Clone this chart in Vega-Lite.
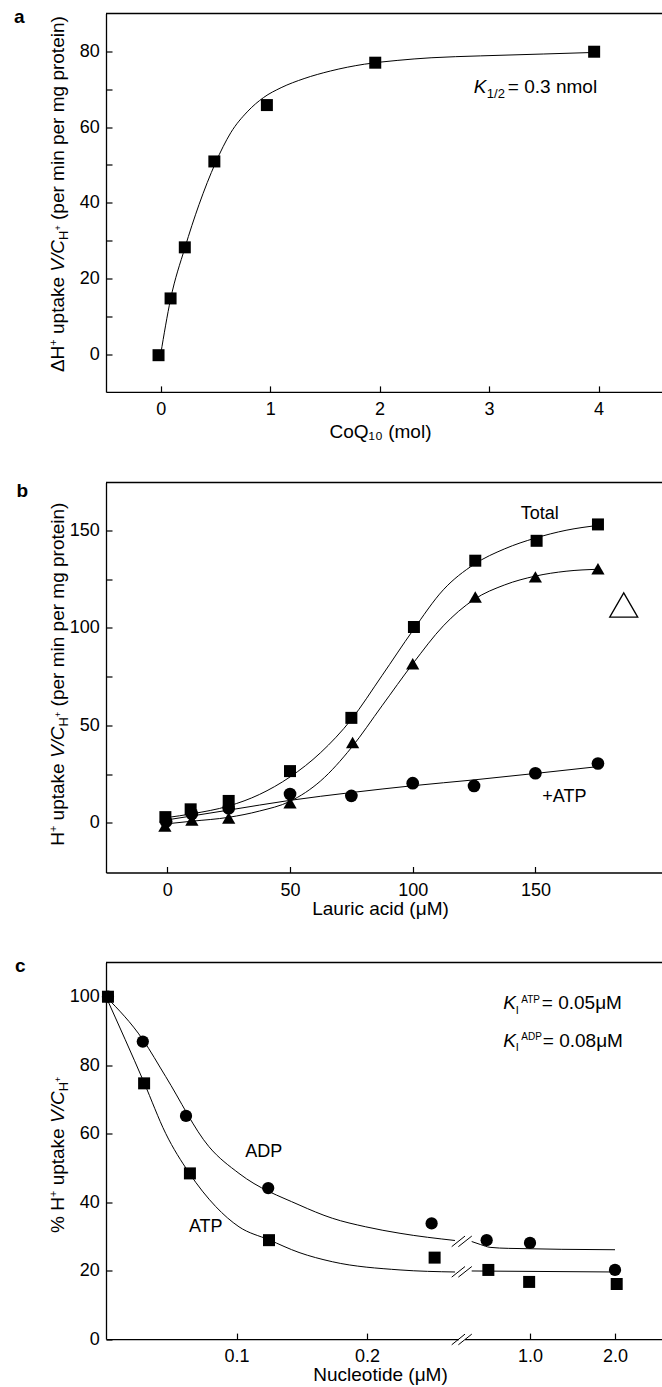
{
  "$schema": "https://vega.github.io/schema/vega-lite/v6.json",
  "background": "white",
  "padding": {"left": 14, "top": 7.5, "right": 0, "bottom": 0},
  "spacing": 90,
  "bounds": "flush",
  "config": {
    "view": {"stroke": null},
    "font": "Liberation Sans",
    "axis": {
      "grid": false, "domainColor": "black", "domainWidth": 1.3, "tickColor": "black", "tickWidth": 1.2, "tickSize": -6,
      "labelFont": "Liberation Sans", "labelFontSize": 18, "labelColor": "black", "labelPadding": 14.7,
      "labelFlush": false, "labelOverlap": false,
      "titleFont": "Liberation Sans", "titleFontSize": 19, "titleFontWeight": "normal", "titleColor": "black"
    },
    "axisY": {"labelPadding": 12.7},
    "text": {"font": "Liberation Sans", "color": "black", "fontSize": 19}
  },
  "datasets": {
    "a_pts": [
      {"CoQ10": -0.02, "uptake": -0.3}, {"CoQ10": 0.09, "uptake": 14.7}, {"CoQ10": 0.22, "uptake": 28.2},
      {"CoQ10": 0.49, "uptake": 50.9}, {"CoQ10": 0.97, "uptake": 65.8}, {"CoQ10": 1.96, "uptake": 77.0},
      {"CoQ10": 3.96, "uptake": 79.9}
    ],
    "a_curve": [
      {"CoQ10": 0, "uptake": 0}, {"CoQ10": 0.09, "uptake": 14.5}, {"CoQ10": 0.22, "uptake": 28}, {"CoQ10": 0.35, "uptake": 39.5},
      {"CoQ10": 0.5, "uptake": 50.5}, {"CoQ10": 0.64, "uptake": 58.5}, {"CoQ10": 0.79, "uptake": 64}, {"CoQ10": 0.94, "uptake": 67.8},
      {"CoQ10": 1.1, "uptake": 70.4}, {"CoQ10": 1.31, "uptake": 72.8}, {"CoQ10": 1.55, "uptake": 74.8}, {"CoQ10": 1.86, "uptake": 76.6},
      {"CoQ10": 2.16, "uptake": 77.6}, {"CoQ10": 2.47, "uptake": 78.3}, {"CoQ10": 2.92, "uptake": 78.8}, {"CoQ10": 3.5, "uptake": 79.3},
      {"CoQ10": 3.95, "uptake": 79.7}
    ],
    "b_pts": [
      {"lauric": -0.8, "uptake": 2.9, "series": "Total"}, {"lauric": 9.5, "uptake": 6.9, "series": "Total"}, {"lauric": 25, "uptake": 11.2, "series": "Total"},
      {"lauric": 50, "uptake": 26.5, "series": "Total"}, {"lauric": 75, "uptake": 53.8, "series": "Total"}, {"lauric": 100.5, "uptake": 100.4, "series": "Total"},
      {"lauric": 125.5, "uptake": 134.4, "series": "Total"}, {"lauric": 150.5, "uptake": 144.6, "series": "Total"}, {"lauric": 175.5, "uptake": 153, "series": "Total"},
      {"lauric": -1, "uptake": -1.7, "series": "Δ"}, {"lauric": 10, "uptake": 1.4, "series": "Δ"}, {"lauric": 25, "uptake": 2.5, "series": "Δ"},
      {"lauric": 50, "uptake": 10.3, "series": "Δ"}, {"lauric": 75.5, "uptake": 41.2, "series": "Δ"}, {"lauric": 100, "uptake": 81.5, "series": "Δ"},
      {"lauric": 125.5, "uptake": 115.8, "series": "Δ"}, {"lauric": 150, "uptake": 126.1, "series": "Δ"}, {"lauric": 175.5, "uptake": 130.3, "series": "Δ"},
      {"lauric": -0.5, "uptake": 0.7, "series": "+ATP"}, {"lauric": 10, "uptake": 4.6, "series": "+ATP"}, {"lauric": 25, "uptake": 7.5, "series": "+ATP"},
      {"lauric": 50, "uptake": 14.7, "series": "+ATP"}, {"lauric": 75, "uptake": 13.8, "series": "+ATP"}, {"lauric": 100, "uptake": 20.3, "series": "+ATP"},
      {"lauric": 125, "uptake": 18.9, "series": "+ATP"}, {"lauric": 150, "uptake": 25.4, "series": "+ATP"}, {"lauric": 175.5, "uptake": 30.4, "series": "+ATP"}
    ],
    "b_curves": [
      {"lauric": 0, "uptake": 2.7, "series": "Total"}, {"lauric": 10, "uptake": 4.6, "series": "Total"}, {"lauric": 25, "uptake": 8.6, "series": "Total"},
      {"lauric": 37.5, "uptake": 14.5, "series": "Total"}, {"lauric": 50, "uptake": 23.5, "series": "Total"}, {"lauric": 62.5, "uptake": 36, "series": "Total"},
      {"lauric": 75, "uptake": 53, "series": "Total"}, {"lauric": 87.5, "uptake": 75.5, "series": "Total"}, {"lauric": 100, "uptake": 98.5, "series": "Total"},
      {"lauric": 112.5, "uptake": 119.5, "series": "Total"}, {"lauric": 125, "uptake": 132.5, "series": "Total"}, {"lauric": 137.5, "uptake": 140.5, "series": "Total"},
      {"lauric": 150, "uptake": 146, "series": "Total"}, {"lauric": 162.5, "uptake": 150, "series": "Total"}, {"lauric": 175.5, "uptake": 152.5, "series": "Total"},
      {"lauric": 0, "uptake": -0.5, "series": "Δ"}, {"lauric": 10, "uptake": 0.8, "series": "Δ"}, {"lauric": 25, "uptake": 2.8, "series": "Δ"},
      {"lauric": 37.5, "uptake": 6, "series": "Δ"}, {"lauric": 50, "uptake": 11, "series": "Δ"}, {"lauric": 62.5, "uptake": 21.5, "series": "Δ"},
      {"lauric": 75, "uptake": 38.5, "series": "Δ"}, {"lauric": 87.5, "uptake": 60, "series": "Δ"}, {"lauric": 100, "uptake": 81.5, "series": "Δ"},
      {"lauric": 112.5, "uptake": 101, "series": "Δ"}, {"lauric": 125, "uptake": 114.5, "series": "Δ"}, {"lauric": 137.5, "uptake": 122, "series": "Δ"},
      {"lauric": 150, "uptake": 126.5, "series": "Δ"}, {"lauric": 162.5, "uptake": 129, "series": "Δ"}, {"lauric": 175.5, "uptake": 130, "series": "Δ"},
      {"lauric": 0, "uptake": 1.5, "series": "+ATP"}, {"lauric": 25, "uptake": 6.5, "series": "+ATP"}, {"lauric": 50, "uptake": 11.5, "series": "+ATP"},
      {"lauric": 75, "uptake": 15.5, "series": "+ATP"}, {"lauric": 100, "uptake": 19, "series": "+ATP"}, {"lauric": 125, "uptake": 22, "series": "+ATP"},
      {"lauric": 150, "uptake": 25.3, "series": "+ATP"}, {"lauric": 175.5, "uptake": 28.8, "series": "+ATP"}
    ],
    "b_key": [{"lauric": 186, "uptake": 111.7}],
    "c_pts_left": [
      {"nucleotide": 0.0015, "pct": 100, "series": "ADP"}, {"nucleotide": 0.0282, "pct": 86.9, "series": "ADP"}, {"nucleotide": 0.0613, "pct": 65.2, "series": "ADP"},
      {"nucleotide": 0.1243, "pct": 44.1, "series": "ADP"}, {"nucleotide": 0.2495, "pct": 33.8, "series": "ADP"},
      {"nucleotide": 0.0015, "pct": 100, "series": "ATP"}, {"nucleotide": 0.0292, "pct": 74.7, "series": "ATP"}, {"nucleotide": 0.0643, "pct": 48.4, "series": "ATP"},
      {"nucleotide": 0.1249, "pct": 28.9, "series": "ATP"}, {"nucleotide": 0.2518, "pct": 23.8, "series": "ATP"}
    ],
    "c_pts_right": [
      {"nucleotide": 0.49, "pct": 28.9, "series": "ADP"}, {"nucleotide": 1.0, "pct": 28.1, "series": "ADP"}, {"nucleotide": 2.0, "pct": 20.2, "series": "ADP"},
      {"nucleotide": 0.51, "pct": 20.2, "series": "ATP"}, {"nucleotide": 0.99, "pct": 16.7, "series": "ATP"}, {"nucleotide": 2.02, "pct": 16.1, "series": "ATP"}
    ],
    "c_curve_left": [
      {"nucleotide": 0, "pct": 100, "series": "ATP"}, {"nucleotide": 0.0292, "pct": 74.9, "series": "ATP"}, {"nucleotide": 0.0457, "pct": 60.1, "series": "ATP"},
      {"nucleotide": 0.0636, "pct": 48.6, "series": "ATP"}, {"nucleotide": 0.0841, "pct": 38.7, "series": "ATP"}, {"nucleotide": 0.1019, "pct": 32.8, "series": "ATP"},
      {"nucleotide": 0.1249, "pct": 29, "series": "ATP"}, {"nucleotide": 0.1479, "pct": 25.3, "series": "ATP"}, {"nucleotide": 0.1734, "pct": 22.6, "series": "ATP"},
      {"nucleotide": 0.2253, "pct": 20.2, "series": "ATP"}, {"nucleotide": 0.2674, "pct": 19.6, "series": "ATP"},
      {"nucleotide": 0, "pct": 100, "series": "ADP"}, {"nucleotide": 0.0282, "pct": 87.5, "series": "ADP"}, {"nucleotide": 0.0457, "pct": 76.7, "series": "ADP"},
      {"nucleotide": 0.0789, "pct": 56.2, "series": "ADP"}, {"nucleotide": 0.1019, "pct": 48.4, "series": "ADP"}, {"nucleotide": 0.1479, "pct": 39.2, "series": "ADP"},
      {"nucleotide": 0.1734, "pct": 35.3, "series": "ADP"}, {"nucleotide": 0.199, "pct": 32.8, "series": "ADP"}, {"nucleotide": 0.2253, "pct": 30.9, "series": "ADP"},
      {"nucleotide": 0.2674, "pct": 28.8, "series": "ADP"}
    ],
    "c_curve_right": [
      {"nucleotide": 0.314, "pct": 19.9, "series": "ATP"}, {"nucleotide": 2.0, "pct": 19.6, "series": "ATP"},
      {"nucleotide": 0.314, "pct": 28.5, "series": "ADP"}, {"nucleotide": 0.42, "pct": 27.6, "series": "ADP"}, {"nucleotide": 0.53, "pct": 26.8, "series": "ADP"},
      {"nucleotide": 0.75, "pct": 26.5, "series": "ADP"}, {"nucleotide": 2.0, "pct": 26.1, "series": "ADP"}
    ],
    "c_breaks": [
      {"x1": 0.2649, "y1": -1.66, "x2": 0.2751, "y2": 1.46}, {"x1": 0.27, "y1": -1.66, "x2": 0.2803, "y2": 1.46},
      {"x1": 0.2649, "y1": 18.1, "x2": 0.2751, "y2": 21.2}, {"x1": 0.27, "y1": 18.1, "x2": 0.2803, "y2": 21.2},
      {"x1": 0.2649, "y1": 27.0, "x2": 0.2751, "y2": 30.1}, {"x1": 0.27, "y1": 27.0, "x2": 0.2803, "y2": 30.1}
    ]
  },
  "vconcat": [
    {
      "width": 556,
      "height": 378.4,
      "layer": [
        {"data": {"name": "a_curve"}, "mark": {"type": "line", "interpolate": "monotone", "color": "black", "strokeWidth": 1},
         "encoding": {
           "x": {"field": "CoQ10", "type": "quantitative", "scale": {"domain": [-0.5, 4.58], "nice": false, "zero": false},
                 "axis": {"values": [0, 1, 2, 3, 4], "format": "d", "title": "CoQ₁₀ (mol)", "titleX": 274, "titleY": 46, "titleBaseline": "alphabetic"}},
           "y": {"field": "uptake", "type": "quantitative", "scale": {"domain": [-10, 90], "nice": false, "zero": false},
                 "axis": {"values": [0, 10, 20, 30, 40, 50, 60, 70, 80], "labelExpr": "datum.value % 20 === 0 ? datum.label : ''", "title": null}}
         }},
        {"data": {"values": [{}]}, "mark": {"type": "rule", "color": "black", "strokeWidth": 1.3}, "encoding": {"y": {"datum": 90, "type": "quantitative"}}},
        {"data": {"name": "a_pts"}, "mark": {"type": "point", "shape": "square", "filled": true, "size": 144, "color": "black", "opacity": 1},
         "encoding": {"x": {"field": "CoQ10", "type": "quantitative"}, "y": {"field": "uptake", "type": "quantitative"}}},
        {"data": {"values": [{}]}, "mark": {"type": "text", "text": "a", "fontWeight": "bold", "fontSize": 19, "align": "left", "baseline": "alphabetic"},
         "encoding": {"x": {"datum": -1.34, "type": "quantitative"}, "y": {"datum": 87.36, "type": "quantitative"}}},
        {"data": {"values": [{}]}, "mark": {"type": "text", "text": "K", "fontStyle": "italic", "fontSize": 19, "align": "left", "baseline": "alphabetic"},
         "encoding": {"x": {"datum": 2.861, "type": "quantitative"}, "y": {"datum": 69.0, "type": "quantitative"}}},
        {"data": {"values": [{}]}, "mark": {"type": "text", "text": "1/2", "fontSize": 13, "align": "left", "baseline": "alphabetic", "dx": 13, "dy": 5},
         "encoding": {"x": {"datum": 2.861, "type": "quantitative"}, "y": {"datum": 69.0, "type": "quantitative"}}},
        {"data": {"values": [{}]}, "mark": {"type": "text", "text": "= 0.3 nmol", "fontSize": 19, "align": "left", "baseline": "alphabetic", "dx": 34},
         "encoding": {"x": {"datum": 2.861, "type": "quantitative"}, "y": {"datum": 69.0, "type": "quantitative"}}},
        {"data": {"values": [{}]}, "mark": {"type": "text", "text": "ΔH", "angle": 270, "fontSize": 19, "align": "left", "baseline": "alphabetic", "dx": 0},
         "encoding": {"x": {"datum": -0.887, "type": "quantitative"}, "y": {"datum": -4.76, "type": "quantitative"}}},
        {"data": {"values": [{}]}, "mark": {"type": "text", "text": "+", "angle": 270, "fontSize": 11, "align": "left", "baseline": "alphabetic", "dx": 26.4, "dy": -7},
         "encoding": {"x": {"datum": -0.887, "type": "quantitative"}, "y": {"datum": -4.76, "type": "quantitative"}}},
        {"data": {"values": [{}]}, "mark": {"type": "text", "text": "uptake", "angle": 270, "fontSize": 19, "align": "left", "baseline": "alphabetic", "dx": 38.1},
         "encoding": {"x": {"datum": -0.887, "type": "quantitative"}, "y": {"datum": -4.76, "type": "quantitative"}}},
        {"data": {"values": [{}]}, "mark": {"type": "text", "text": "V/C", "fontStyle": "italic", "angle": 270, "fontSize": 19, "align": "left", "baseline": "alphabetic", "dx": 100.4},
         "encoding": {"x": {"datum": -0.887, "type": "quantitative"}, "y": {"datum": -4.76, "type": "quantitative"}}},
        {"data": {"values": [{}]}, "mark": {"type": "text", "text": "H", "angle": 270, "fontSize": 13, "align": "left", "baseline": "alphabetic", "dx": 132.1, "dy": 4},
         "encoding": {"x": {"datum": -0.887, "type": "quantitative"}, "y": {"datum": -4.76, "type": "quantitative"}}},
        {"data": {"values": [{}]}, "mark": {"type": "text", "text": "+", "angle": 270, "fontSize": 9, "align": "left", "baseline": "alphabetic", "dx": 141.5, "dy": -3},
         "encoding": {"x": {"datum": -0.887, "type": "quantitative"}, "y": {"datum": -4.76, "type": "quantitative"}}},
        {"data": {"values": [{}]}, "mark": {"type": "text", "text": "(per min per mg protein)", "angle": 270, "fontSize": 19, "align": "left", "baseline": "alphabetic", "dx": 152.1},
         "encoding": {"x": {"datum": -0.887, "type": "quantitative"}, "y": {"datum": -4.76, "type": "quantitative"}}}
      ]
    },
    {
      "width": 556,
      "height": 390,
      "layer": [
        {"data": {"name": "b_curves"}, "mark": {"type": "line", "interpolate": "monotone", "color": "black", "strokeWidth": 1},
         "encoding": {
           "x": {"field": "lauric", "type": "quantitative", "scale": {"domain": [-25, 201.6], "nice": false, "zero": false},
                 "axis": {"values": [0, 50, 100, 150], "format": "d", "title": "Lauric acid (μM)", "titleX": 274, "titleY": 42, "titleBaseline": "alphabetic"}},
           "y": {"field": "uptake", "type": "quantitative", "scale": {"domain": [-25.5, 174.5], "nice": false, "zero": false},
                 "axis": {"values": [0, 25, 50, 75, 100, 125, 150], "labelExpr": "datum.value % 50 === 0 ? datum.label : ''", "title": null}},
           "detail": {"field": "series", "type": "nominal"}
         }},
        {"data": {"values": [{}]}, "mark": {"type": "rule", "color": "black", "strokeWidth": 1.3}, "encoding": {"y": {"datum": 174.5, "type": "quantitative"}}},
        {"data": {"name": "b_pts"}, "transform": [{"filter": "datum.series === 'Total'"}],
         "mark": {"type": "point", "shape": "square", "filled": true, "size": 144, "color": "black", "opacity": 1},
         "encoding": {"x": {"field": "lauric", "type": "quantitative"}, "y": {"field": "uptake", "type": "quantitative"}}},
        {"data": {"name": "b_pts"}, "transform": [{"filter": "datum.series === 'Δ'"}],
         "mark": {"type": "point", "shape": "triangle-up", "filled": true, "size": 175, "color": "black", "opacity": 1},
         "encoding": {"x": {"field": "lauric", "type": "quantitative"}, "y": {"field": "uptake", "type": "quantitative"}}},
        {"data": {"name": "b_pts"}, "transform": [{"filter": "datum.series === '+ATP'"}],
         "mark": {"type": "point", "shape": "circle", "filled": true, "size": 161, "color": "black", "opacity": 1},
         "encoding": {"x": {"field": "lauric", "type": "quantitative"}, "y": {"field": "uptake", "type": "quantitative"}}},
        {"data": {"name": "b_key"},
         "mark": {"type": "point", "shape": "triangle-up", "filled": false, "size": 784, "stroke": "black", "strokeWidth": 1.3, "opacity": 1},
         "encoding": {"x": {"field": "lauric", "type": "quantitative"}, "y": {"field": "uptake", "type": "quantitative"}}},
        {"data": {"values": [{}]}, "mark": {"type": "text", "text": "Total", "fontSize": 18, "align": "center", "baseline": "alphabetic"},
         "encoding": {"x": {"datum": 151.8, "type": "quantitative"}, "y": {"datum": 155.6, "type": "quantitative"}}},
        {"data": {"values": [{}]}, "mark": {"type": "text", "text": "+ATP", "fontSize": 18, "align": "center", "baseline": "alphabetic"},
         "encoding": {"x": {"datum": 161.8, "type": "quantitative"}, "y": {"datum": 10.5, "type": "quantitative"}}},
        {"data": {"values": [{}]}, "mark": {"type": "text", "text": "b", "fontWeight": "bold", "fontSize": 19, "align": "left", "baseline": "alphabetic"},
         "encoding": {"x": {"datum": -61.47, "type": "quantitative"}, "y": {"datum": 167, "type": "quantitative"}}},
        {"data": {"values": [{}]}, "mark": {"type": "text", "text": "H", "angle": 270, "fontSize": 19, "align": "left", "baseline": "alphabetic", "dx": 0},
         "encoding": {"x": {"datum": -42.28, "type": "quantitative"}, "y": {"datum": -11.8, "type": "quantitative"}}},
        {"data": {"values": [{}]}, "mark": {"type": "text", "text": "+", "angle": 270, "fontSize": 11, "align": "left", "baseline": "alphabetic", "dx": 13.7, "dy": -7},
         "encoding": {"x": {"datum": -42.28, "type": "quantitative"}, "y": {"datum": -11.8, "type": "quantitative"}}},
        {"data": {"values": [{}]}, "mark": {"type": "text", "text": "uptake", "angle": 270, "fontSize": 19, "align": "left", "baseline": "alphabetic", "dx": 25.4},
         "encoding": {"x": {"datum": -42.28, "type": "quantitative"}, "y": {"datum": -11.8, "type": "quantitative"}}},
        {"data": {"values": [{}]}, "mark": {"type": "text", "text": "V/C", "fontStyle": "italic", "angle": 270, "fontSize": 19, "align": "left", "baseline": "alphabetic", "dx": 87.7},
         "encoding": {"x": {"datum": -42.28, "type": "quantitative"}, "y": {"datum": -11.8, "type": "quantitative"}}},
        {"data": {"values": [{}]}, "mark": {"type": "text", "text": "H", "angle": 270, "fontSize": 13, "align": "left", "baseline": "alphabetic", "dx": 119.4, "dy": 4},
         "encoding": {"x": {"datum": -42.28, "type": "quantitative"}, "y": {"datum": -11.8, "type": "quantitative"}}},
        {"data": {"values": [{}]}, "mark": {"type": "text", "text": "+", "angle": 270, "fontSize": 9, "align": "left", "baseline": "alphabetic", "dx": 128.8, "dy": -3},
         "encoding": {"x": {"datum": -42.28, "type": "quantitative"}, "y": {"datum": -11.8, "type": "quantitative"}}},
        {"data": {"values": [{}]}, "mark": {"type": "text", "text": "(per min per mg protein)", "angle": 270, "fontSize": 19, "align": "left", "baseline": "alphabetic", "dx": 139.4},
         "encoding": {"x": {"datum": -42.28, "type": "quantitative"}, "y": {"datum": -11.8, "type": "quantitative"}}}
      ]
    },
    {
      "width": 556,
      "height": 376.6,
      "layer": [
        {
          "layer": [
            {"data": {"name": "c_curve_left"}, "mark": {"type": "line", "interpolate": "monotone", "color": "black", "strokeWidth": 1},
             "encoding": {
               "x": {"field": "nucleotide", "type": "quantitative", "scale": {"domain": [0, 0.2701], "range": [0, 352.5], "nice": false, "zero": false},
                     "axis": {"values": [0.1, 0.2], "format": ".1f", "title": "Nucleotide (μM)", "titleX": 274, "titleY": 41, "titleBaseline": "alphabetic", "orient": "bottom"}},
               "y": {"field": "pct", "type": "quantitative", "scale": {"domain": [0, 110], "nice": false, "zero": false},
                     "axis": {"values": [0, 10, 20, 30, 40, 50, 60, 70, 80, 90, 100], "labelExpr": "datum.value % 20 === 0 ? datum.label : ''", "title": null}},
               "detail": {"field": "series", "type": "nominal"}
             }},
            {"data": {"values": [{}]}, "mark": {"type": "rule", "color": "black", "strokeWidth": 1.3}, "encoding": {"y": {"datum": 110, "type": "quantitative"}}},
            {"data": {"name": "c_breaks"}, "mark": {"type": "rule", "color": "black", "strokeWidth": 1},
             "encoding": {"x": {"field": "x1", "type": "quantitative"}, "x2": {"field": "x2"}, "y": {"field": "y1", "type": "quantitative"}, "y2": {"field": "y2"}}},
            {"data": {"name": "c_pts_left"}, "transform": [{"filter": "datum.series === 'ADP'"}],
             "mark": {"type": "point", "shape": "circle", "filled": true, "size": 150, "color": "black", "opacity": 1},
             "encoding": {"x": {"field": "nucleotide", "type": "quantitative"}, "y": {"field": "pct", "type": "quantitative"}}},
            {"data": {"name": "c_pts_left"}, "transform": [{"filter": "datum.series === 'ATP'"}],
             "mark": {"type": "point", "shape": "square", "filled": true, "size": 144, "color": "black", "opacity": 1},
             "encoding": {"x": {"field": "nucleotide", "type": "quantitative"}, "y": {"field": "pct", "type": "quantitative"}}},
            {"data": {"values": [{}]}, "mark": {"type": "text", "text": "ADP", "fontSize": 18, "align": "center", "baseline": "alphabetic"},
             "encoding": {"x": {"datum": 0.1208, "type": "quantitative"}, "y": {"datum": 53.2, "type": "quantitative"}}},
            {"data": {"values": [{}]}, "mark": {"type": "text", "text": "ATP", "fontSize": 18, "align": "center", "baseline": "alphabetic"},
             "encoding": {"x": {"datum": 0.0764, "type": "quantitative"}, "y": {"datum": 31.4, "type": "quantitative"}}},
            {"data": {"values": [{}]}, "mark": {"type": "text", "text": "c", "fontWeight": "bold", "fontSize": 19, "align": "left", "baseline": "alphabetic"},
             "encoding": {"x": {"datum": -0.0697, "type": "quantitative"}, "y": {"datum": 107.1, "type": "quantitative"}}},
            {"data": {"values": [{}]}, "mark": {"type": "text", "text": "% H", "angle": 270, "fontSize": 19, "align": "left", "baseline": "alphabetic", "dx": 0},
             "encoding": {"x": {"datum": -0.0325, "type": "quantitative"}, "y": {"datum": 31.0, "type": "quantitative"}}},
            {"data": {"values": [{}]}, "mark": {"type": "text", "text": "+", "angle": 270, "fontSize": 11, "align": "left", "baseline": "alphabetic", "dx": 35.9, "dy": -7},
             "encoding": {"x": {"datum": -0.0325, "type": "quantitative"}, "y": {"datum": 31.0, "type": "quantitative"}}},
            {"data": {"values": [{}]}, "mark": {"type": "text", "text": "uptake", "angle": 270, "fontSize": 19, "align": "left", "baseline": "alphabetic", "dx": 47.6},
             "encoding": {"x": {"datum": -0.0325, "type": "quantitative"}, "y": {"datum": 31.0, "type": "quantitative"}}},
            {"data": {"values": [{}]}, "mark": {"type": "text", "text": "V/C", "fontStyle": "italic", "angle": 270, "fontSize": 19, "align": "left", "baseline": "alphabetic", "dx": 109.9},
             "encoding": {"x": {"datum": -0.0325, "type": "quantitative"}, "y": {"datum": 31.0, "type": "quantitative"}}},
            {"data": {"values": [{}]}, "mark": {"type": "text", "text": "H", "angle": 270, "fontSize": 13, "align": "left", "baseline": "alphabetic", "dx": 141.6, "dy": 4},
             "encoding": {"x": {"datum": -0.0325, "type": "quantitative"}, "y": {"datum": 31.0, "type": "quantitative"}}},
            {"data": {"values": [{}]}, "mark": {"type": "text", "text": "+", "angle": 270, "fontSize": 9, "align": "left", "baseline": "alphabetic", "dx": 151, "dy": -3},
             "encoding": {"x": {"datum": -0.0325, "type": "quantitative"}, "y": {"datum": 31.0, "type": "quantitative"}}}
          ]
        },
        {
          "layer": [
            {"data": {"name": "c_curve_right"}, "mark": {"type": "line", "interpolate": "monotone", "color": "black", "strokeWidth": 1},
             "encoding": {
               "x": {"field": "nucleotide", "type": "quantitative", "scale": {"domain": [0.2294, 2.5529], "range": [358.5, 556], "nice": false, "zero": false},
                     "axis": {"values": [1, 2], "format": ".1f", "title": null, "orient": "bottom"}},
               "y": {"field": "pct", "type": "quantitative"},
               "detail": {"field": "series", "type": "nominal"}
             }},
            {"data": {"name": "c_pts_right"}, "transform": [{"filter": "datum.series === 'ADP'"}],
             "mark": {"type": "point", "shape": "circle", "filled": true, "size": 150, "color": "black", "opacity": 1},
             "encoding": {"x": {"field": "nucleotide", "type": "quantitative"}, "y": {"field": "pct", "type": "quantitative"}}},
            {"data": {"name": "c_pts_right"}, "transform": [{"filter": "datum.series === 'ATP'"}],
             "mark": {"type": "point", "shape": "square", "filled": true, "size": 144, "color": "black", "opacity": 1},
             "encoding": {"x": {"field": "nucleotide", "type": "quantitative"}, "y": {"field": "pct", "type": "quantitative"}}},
            {"data": {"values": [{}]}, "mark": {"type": "text", "text": "K", "fontStyle": "italic", "fontSize": 19, "align": "left", "baseline": "alphabetic"},
             "encoding": {"x": {"datum": 0.686, "type": "quantitative"}, "y": {"datum": 96.4, "type": "quantitative"}}},
            {"data": {"values": [{}]}, "mark": {"type": "text", "text": "I", "fontSize": 11, "align": "left", "baseline": "alphabetic", "dx": 12.5, "dy": 4.5},
             "encoding": {"x": {"datum": 0.686, "type": "quantitative"}, "y": {"datum": 96.4, "type": "quantitative"}}},
            {"data": {"values": [{}]}, "mark": {"type": "text", "text": "ATP", "fontSize": 10, "align": "left", "baseline": "alphabetic", "dx": 18, "dy": -6.5},
             "encoding": {"x": {"datum": 0.686, "type": "quantitative"}, "y": {"datum": 96.4, "type": "quantitative"}}},
            {"data": {"values": [{}]}, "mark": {"type": "text", "text": "= 0.05μM", "fontSize": 19, "align": "left", "baseline": "alphabetic", "dx": 38.5},
             "encoding": {"x": {"datum": 0.686, "type": "quantitative"}, "y": {"datum": 96.4, "type": "quantitative"}}},
            {"data": {"values": [{}]}, "mark": {"type": "text", "text": "K", "fontStyle": "italic", "fontSize": 19, "align": "left", "baseline": "alphabetic"},
             "encoding": {"x": {"datum": 0.686, "type": "quantitative"}, "y": {"datum": 85.4, "type": "quantitative"}}},
            {"data": {"values": [{}]}, "mark": {"type": "text", "text": "I", "fontSize": 11, "align": "left", "baseline": "alphabetic", "dx": 12.5, "dy": 4.5},
             "encoding": {"x": {"datum": 0.686, "type": "quantitative"}, "y": {"datum": 85.4, "type": "quantitative"}}},
            {"data": {"values": [{}]}, "mark": {"type": "text", "text": "ADP", "fontSize": 10, "align": "left", "baseline": "alphabetic", "dx": 18, "dy": -6.5},
             "encoding": {"x": {"datum": 0.686, "type": "quantitative"}, "y": {"datum": 85.4, "type": "quantitative"}}},
            {"data": {"values": [{}]}, "mark": {"type": "text", "text": "= 0.08μM", "fontSize": 19, "align": "left", "baseline": "alphabetic", "dx": 39.5},
             "encoding": {"x": {"datum": 0.686, "type": "quantitative"}, "y": {"datum": 85.4, "type": "quantitative"}}}
          ]
        }
      ],
      "resolve": {"scale": {"x": "independent"}, "axis": {"x": "independent"}}
    }
  ]
}
